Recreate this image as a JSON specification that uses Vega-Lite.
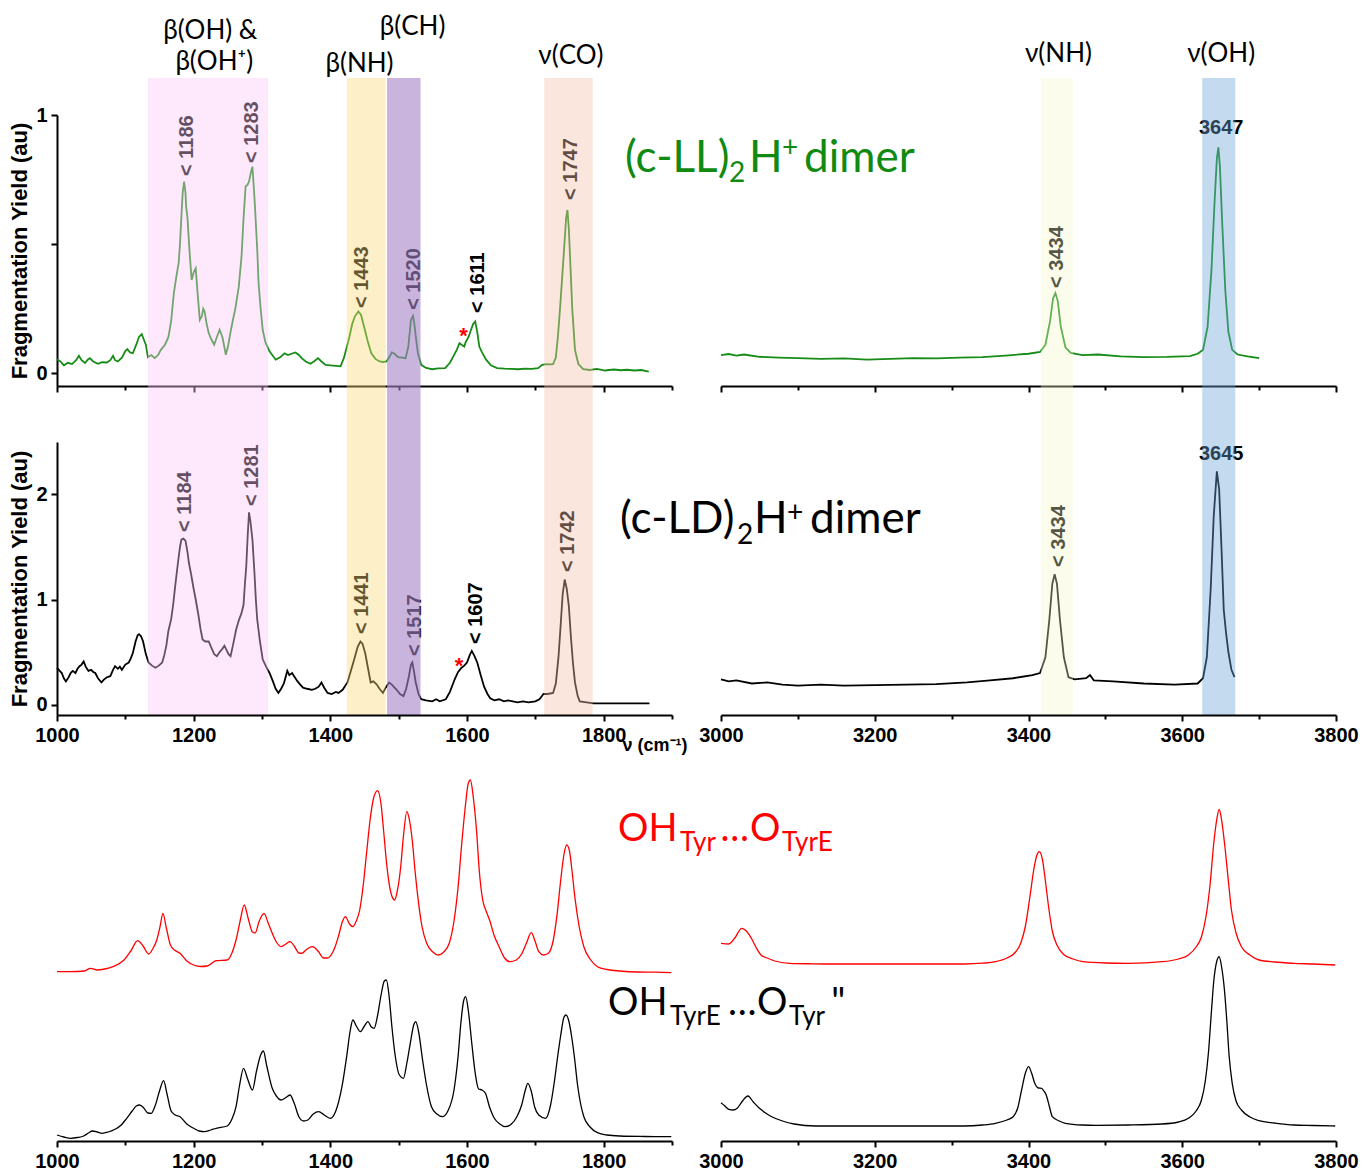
{
"$schema": "https://vega.github.io/schema/vega-lite/v6.json",
"padding": {"left": 8, "top": 13, "right": 0, "bottom": 0},
"background": "white",
"config": {
  "view": {"stroke": null},
  "axis": {"labelFont": "Liberation Sans", "labelFontWeight": "bold", "labelFontSize": 20, "labelColor": "#000", "domainColor": "#000", "domainWidth": 2, "tickColor": "#000", "tickWidth": 2, "grid": false, "titleFont": "Liberation Sans", "titleFontWeight": "bold", "titleColor": "#000", "labelFlush": false, "labelOverlap": false}
},
"datasets": {
"A": [{"wn":1000,"y":0.054},{"wn":1005,"y":0.045},{"wn":1010,"y":0.03},{"wn":1016,"y":0.04},{"wn":1022,"y":0.035},{"wn":1028,"y":0.05},{"wn":1032,"y":0.067},{"wn":1036,"y":0.05},{"wn":1041,"y":0.039},{"wn":1045,"y":0.052},{"wn":1048,"y":0.058},{"wn":1053,"y":0.045},{"wn":1060,"y":0.036},{"wn":1066,"y":0.042},{"wn":1073,"y":0.041},{"wn":1078,"y":0.05},{"wn":1082,"y":0.067},{"wn":1085,"y":0.05},{"wn":1089,"y":0.045},{"wn":1095,"y":0.06},{"wn":1100,"y":0.085},{"wn":1103,"y":0.093},{"wn":1107,"y":0.08},{"wn":1111,"y":0.077},{"wn":1116,"y":0.11},{"wn":1120,"y":0.14},{"wn":1124,"y":0.151},{"wn":1127,"y":0.13},{"wn":1130,"y":0.11},{"wn":1133,"y":0.062},{"wn":1138,"y":0.07},{"wn":1143,"y":0.058},{"wn":1148,"y":0.07},{"wn":1152,"y":0.09},{"wn":1158,"y":0.11},{"wn":1163,"y":0.139},{"wn":1167,"y":0.2},{"wn":1171,"y":0.31},{"wn":1175,"y":0.38},{"wn":1178,"y":0.426},{"wn":1180,"y":0.5},{"wn":1182,"y":0.606},{"wn":1184,"y":0.7},{"wn":1186,"y":0.742},{"wn":1188,"y":0.7},{"wn":1189,"y":0.645},{"wn":1191,"y":0.6},{"wn":1192,"y":0.555},{"wn":1194,"y":0.47},{"wn":1197,"y":0.361},{"wn":1200,"y":0.39},{"wn":1203,"y":0.406},{"wn":1206,"y":0.3},{"wn":1209,"y":0.206},{"wn":1212,"y":0.22},{"wn":1214,"y":0.25},{"wn":1216,"y":0.239},{"wn":1219,"y":0.19},{"wn":1222,"y":0.155},{"wn":1226,"y":0.13},{"wn":1230,"y":0.11},{"wn":1234,"y":0.14},{"wn":1238,"y":0.168},{"wn":1242,"y":0.14},{"wn":1245,"y":0.1},{"wn":1247,"y":0.071},{"wn":1250,"y":0.1},{"wn":1254,"y":0.16},{"wn":1257,"y":0.2},{"wn":1261,"y":0.25},{"wn":1266,"y":0.335},{"wn":1270,"y":0.45},{"wn":1273,"y":0.6},{"wn":1276,"y":0.723},{"wn":1279,"y":0.73},{"wn":1281,"y":0.742},{"wn":1284,"y":0.78},{"wn":1286,"y":0.8},{"wn":1288,"y":0.72},{"wn":1290,"y":0.632},{"wn":1293,"y":0.48},{"wn":1295,"y":0.348},{"wn":1298,"y":0.25},{"wn":1301,"y":0.168},{"wn":1305,"y":0.12},{"wn":1311,"y":0.084},{"wn":1315,"y":0.07},{"wn":1320,"y":0.052},{"wn":1326,"y":0.06},{"wn":1333,"y":0.077},{"wn":1338,"y":0.07},{"wn":1344,"y":0.076},{"wn":1349,"y":0.08},{"wn":1354,"y":0.07},{"wn":1358,"y":0.058},{"wn":1364,"y":0.045},{"wn":1371,"y":0.036},{"wn":1376,"y":0.045},{"wn":1382,"y":0.058},{"wn":1387,"y":0.045},{"wn":1393,"y":0.032},{"wn":1400,"y":0.03},{"wn":1408,"y":0.028},{"wn":1415,"y":0.026},{"wn":1420,"y":0.06},{"wn":1424,"y":0.1},{"wn":1428,"y":0.142},{"wn":1432,"y":0.19},{"wn":1436,"y":0.22},{"wn":1441,"y":0.239},{"wn":1445,"y":0.225},{"wn":1450,"y":0.174},{"wn":1455,"y":0.12},{"wn":1460,"y":0.077},{"wn":1466,"y":0.055},{"wn":1472,"y":0.045},{"wn":1477,"y":0.043},{"wn":1482,"y":0.045},{"wn":1486,"y":0.06},{"wn":1490,"y":0.08},{"wn":1494,"y":0.075},{"wn":1499,"y":0.062},{"wn":1505,"y":0.06},{"wn":1510,"y":0.058},{"wn":1514,"y":0.1},{"wn":1518,"y":0.206},{"wn":1521,"y":0.222},{"wn":1523,"y":0.19},{"wn":1525,"y":0.142},{"wn":1528,"y":0.08},{"wn":1533,"y":0.032},{"wn":1540,"y":0.02},{"wn":1549,"y":0.015},{"wn":1558,"y":0.018},{"wn":1568,"y":0.019},{"wn":1575,"y":0.04},{"wn":1580,"y":0.065},{"wn":1585,"y":0.09},{"wn":1589,"y":0.116},{"wn":1592,"y":0.11},{"wn":1596,"y":0.103},{"wn":1598,"y":0.12},{"wn":1600,"y":0.129},{"wn":1603,"y":0.145},{"wn":1605,"y":0.161},{"wn":1609,"y":0.19},{"wn":1612,"y":0.2},{"wn":1615,"y":0.16},{"wn":1618,"y":0.103},{"wn":1622,"y":0.08},{"wn":1628,"y":0.052},{"wn":1635,"y":0.03},{"wn":1644,"y":0.019},{"wn":1655,"y":0.017},{"wn":1665,"y":0.016},{"wn":1675,"y":0.015},{"wn":1685,"y":0.017},{"wn":1695,"y":0.016},{"wn":1704,"y":0.019},{"wn":1710,"y":0.032},{"wn":1716,"y":0.035},{"wn":1722,"y":0.034},{"wn":1726,"y":0.035},{"wn":1730,"y":0.06},{"wn":1733,"y":0.14},{"wn":1736,"y":0.245},{"wn":1739,"y":0.36},{"wn":1742,"y":0.477},{"wn":1745,"y":0.6},{"wn":1747,"y":0.632},{"wn":1749,"y":0.56},{"wn":1751,"y":0.439},{"wn":1754,"y":0.25},{"wn":1758,"y":0.09},{"wn":1763,"y":0.035},{"wn":1770,"y":0.015},{"wn":1780,"y":0.012},{"wn":1790,"y":0.016},{"wn":1802,"y":0.01},{"wn":1815,"y":0.014},{"wn":1825,"y":0.011},{"wn":1834,"y":0.013},{"wn":1845,"y":0.01},{"wn":1855,"y":0.012},{"wn":1866,"y":0.006}],
"B": [{"wn":1000,"y":0.35},{"wn":1004,"y":0.32},{"wn":1007,"y":0.3},{"wn":1010,"y":0.25},{"wn":1013,"y":0.22},{"wn":1017,"y":0.26},{"wn":1020,"y":0.3},{"wn":1023,"y":0.32},{"wn":1027,"y":0.3},{"wn":1030,"y":0.34},{"wn":1033,"y":0.365},{"wn":1036,"y":0.38},{"wn":1039,"y":0.41},{"wn":1042,"y":0.36},{"wn":1046,"y":0.32},{"wn":1050,"y":0.33},{"wn":1053,"y":0.31},{"wn":1056,"y":0.3},{"wn":1060,"y":0.25},{"wn":1065,"y":0.21},{"wn":1069,"y":0.24},{"wn":1073,"y":0.26},{"wn":1078,"y":0.27},{"wn":1082,"y":0.33},{"wn":1085,"y":0.365},{"wn":1089,"y":0.34},{"wn":1092,"y":0.36},{"wn":1095,"y":0.33},{"wn":1100,"y":0.38},{"wn":1105,"y":0.4},{"wn":1108,"y":0.44},{"wn":1111,"y":0.49},{"wn":1115,"y":0.6},{"wn":1118,"y":0.66},{"wn":1120,"y":0.67},{"wn":1123,"y":0.65},{"wn":1126,"y":0.6},{"wn":1130,"y":0.48},{"wn":1134,"y":0.4},{"wn":1139,"y":0.37},{"wn":1144,"y":0.35},{"wn":1149,"y":0.37},{"wn":1154,"y":0.4},{"wn":1157,"y":0.47},{"wn":1160,"y":0.56},{"wn":1163,"y":0.7},{"wn":1167,"y":0.81},{"wn":1170,"y":0.95},{"wn":1173,"y":1.13},{"wn":1177,"y":1.35},{"wn":1180,"y":1.5},{"wn":1182,"y":1.57},{"wn":1185,"y":1.58},{"wn":1188,"y":1.56},{"wn":1191,"y":1.45},{"wn":1193,"y":1.35},{"wn":1196,"y":1.25},{"wn":1200,"y":1.1},{"wn":1203,"y":1.0},{"wn":1207,"y":0.85},{"wn":1210,"y":0.72},{"wn":1213,"y":0.62},{"wn":1217,"y":0.6},{"wn":1222,"y":0.6},{"wn":1226,"y":0.54},{"wn":1230,"y":0.48},{"wn":1234,"y":0.46},{"wn":1238,"y":0.5},{"wn":1242,"y":0.53},{"wn":1245,"y":0.56},{"wn":1248,"y":0.52},{"wn":1251,"y":0.48},{"wn":1254,"y":0.46},{"wn":1258,"y":0.58},{"wn":1262,"y":0.71},{"wn":1266,"y":0.8},{"wn":1270,"y":0.87},{"wn":1273,"y":0.95},{"wn":1275,"y":1.15},{"wn":1277,"y":1.32},{"wn":1279,"y":1.6},{"wn":1281,"y":1.83},{"wn":1283,"y":1.75},{"wn":1286,"y":1.57},{"wn":1289,"y":1.25},{"wn":1291,"y":1.0},{"wn":1293,"y":0.81},{"wn":1297,"y":0.6},{"wn":1301,"y":0.43},{"wn":1306,"y":0.36},{"wn":1311,"y":0.3},{"wn":1316,"y":0.22},{"wn":1320,"y":0.15},{"wn":1324,"y":0.11},{"wn":1328,"y":0.15},{"wn":1332,"y":0.2},{"wn":1337,"y":0.32},{"wn":1340,"y":0.28},{"wn":1344,"y":0.3},{"wn":1347,"y":0.27},{"wn":1352,"y":0.22},{"wn":1356,"y":0.19},{"wn":1360,"y":0.16},{"wn":1366,"y":0.15},{"wn":1373,"y":0.14},{"wn":1378,"y":0.15},{"wn":1383,"y":0.17},{"wn":1387,"y":0.21},{"wn":1391,"y":0.16},{"wn":1396,"y":0.11},{"wn":1402,"y":0.1},{"wn":1408,"y":0.12},{"wn":1412,"y":0.11},{"wn":1418,"y":0.14},{"wn":1425,"y":0.21},{"wn":1430,"y":0.32},{"wn":1435,"y":0.43},{"wn":1440,"y":0.55},{"wn":1444,"y":0.6},{"wn":1447,"y":0.58},{"wn":1451,"y":0.49},{"wn":1455,"y":0.35},{"wn":1459,"y":0.21},{"wn":1463,"y":0.22},{"wn":1468,"y":0.19},{"wn":1472,"y":0.15},{"wn":1477,"y":0.11},{"wn":1481,"y":0.16},{"wn":1486,"y":0.21},{"wn":1490,"y":0.19},{"wn":1494,"y":0.16},{"wn":1497,"y":0.14},{"wn":1502,"y":0.1},{"wn":1507,"y":0.08},{"wn":1511,"y":0.15},{"wn":1515,"y":0.27},{"wn":1518,"y":0.38},{"wn":1520,"y":0.4},{"wn":1522,"y":0.33},{"wn":1525,"y":0.21},{"wn":1529,"y":0.1},{"wn":1533,"y":0.05},{"wn":1540,"y":0.04},{"wn":1549,"y":0.03},{"wn":1555,"y":0.05},{"wn":1560,"y":0.03},{"wn":1569,"y":0.05},{"wn":1575,"y":0.12},{"wn":1582,"y":0.24},{"wn":1587,"y":0.31},{"wn":1592,"y":0.35},{"wn":1596,"y":0.37},{"wn":1600,"y":0.4},{"wn":1604,"y":0.47},{"wn":1607,"y":0.51},{"wn":1611,"y":0.46},{"wn":1615,"y":0.4},{"wn":1620,"y":0.28},{"wn":1625,"y":0.17},{"wn":1630,"y":0.1},{"wn":1634,"y":0.06},{"wn":1640,"y":0.04},{"wn":1647,"y":0.05},{"wn":1654,"y":0.03},{"wn":1660,"y":0.04},{"wn":1667,"y":0.03},{"wn":1674,"y":0.02},{"wn":1682,"y":0.03},{"wn":1690,"y":0.02},{"wn":1700,"y":0.03},{"wn":1706,"y":0.05},{"wn":1712,"y":0.1},{"wn":1718,"y":0.1},{"wn":1726,"y":0.11},{"wn":1730,"y":0.2},{"wn":1734,"y":0.46},{"wn":1737,"y":0.75},{"wn":1740,"y":1.05},{"wn":1743,"y":1.19},{"wn":1746,"y":1.1},{"wn":1749,"y":0.94},{"wn":1752,"y":0.65},{"wn":1755,"y":0.4},{"wn":1758,"y":0.21},{"wn":1762,"y":0.08},{"wn":1765,"y":0.03},{"wn":1775,"y":0.02},{"wn":1785,"y":0.01},{"wn":1867,"y":0.01}],
"D": [{"wn":3000,"y":0.07},{"wn":3010,"y":0.074},{"wn":3020,"y":0.068},{"wn":3030,"y":0.072},{"wn":3050,"y":0.063},{"wn":3075,"y":0.06},{"wn":3100,"y":0.058},{"wn":3130,"y":0.055},{"wn":3160,"y":0.057},{"wn":3190,"y":0.052},{"wn":3220,"y":0.055},{"wn":3250,"y":0.058},{"wn":3280,"y":0.057},{"wn":3310,"y":0.06},{"wn":3340,"y":0.062},{"wn":3370,"y":0.068},{"wn":3400,"y":0.075},{"wn":3415,"y":0.082},{"wn":3422,"y":0.11},{"wn":3428,"y":0.2},{"wn":3432,"y":0.29},{"wn":3435,"y":0.31},{"wn":3438,"y":0.28},{"wn":3442,"y":0.18},{"wn":3448,"y":0.1},{"wn":3455,"y":0.078},{"wn":3470,"y":0.07},{"wn":3490,"y":0.072},{"wn":3520,"y":0.065},{"wn":3550,"y":0.062},{"wn":3580,"y":0.063},{"wn":3610,"y":0.066},{"wn":3620,"y":0.075},{"wn":3627,"y":0.09},{"wn":3633,"y":0.18},{"wn":3638,"y":0.4},{"wn":3642,"y":0.66},{"wn":3645,"y":0.83},{"wn":3647,"y":0.875},{"wn":3649,"y":0.8},{"wn":3652,"y":0.58},{"wn":3656,"y":0.32},{"wn":3660,"y":0.16},{"wn":3665,"y":0.09},{"wn":3672,"y":0.072},{"wn":3685,"y":0.065},{"wn":3700,"y":0.058}],
"E": [{"wn":3000,"y":0.24},{"wn":3010,"y":0.22},{"wn":3020,"y":0.23},{"wn":3040,"y":0.2},{"wn":3060,"y":0.21},{"wn":3080,"y":0.19},{"wn":3100,"y":0.18},{"wn":3130,"y":0.19},{"wn":3160,"y":0.18},{"wn":3200,"y":0.185},{"wn":3240,"y":0.19},{"wn":3280,"y":0.195},{"wn":3320,"y":0.21},{"wn":3350,"y":0.23},{"wn":3380,"y":0.25},{"wn":3405,"y":0.28},{"wn":3415,"y":0.3},{"wn":3422,"y":0.45},{"wn":3427,"y":0.8},{"wn":3431,"y":1.15},{"wn":3434,"y":1.24},{"wn":3437,"y":1.15},{"wn":3441,"y":0.8},{"wn":3446,"y":0.45},{"wn":3452,"y":0.26},{"wn":3460,"y":0.24},{"wn":3475,"y":0.25},{"wn":3480,"y":0.28},{"wn":3485,"y":0.23},{"wn":3510,"y":0.22},{"wn":3550,"y":0.2},{"wn":3590,"y":0.19},{"wn":3620,"y":0.2},{"wn":3627,"y":0.25},{"wn":3632,"y":0.45},{"wn":3637,"y":1.1},{"wn":3641,"y":1.8},{"wn":3645,"y":2.22},{"wn":3648,"y":2.05},{"wn":3651,"y":1.5},{"wn":3654,"y":0.9},{"wn":3657,"y":0.68},{"wn":3660,"y":0.5},{"wn":3664,"y":0.33},{"wn":3668,"y":0.26}],
"Cr": [{"wn":1000,"y":1.694},{"wn":1020,"y":1.694},{"wn":1040,"y":1.7},{"wn":1049,"y":1.727},{"wn":1059,"y":1.71},{"wn":1070,"y":1.72},{"wn":1082,"y":1.743},{"wn":1090,"y":1.77},{"wn":1098,"y":1.81},{"wn":1108,"y":1.9},{"wn":1118,"y":2.003},{"wn":1126,"y":1.95},{"wn":1134,"y":1.87},{"wn":1140,"y":1.92},{"wn":1146,"y":2.01},{"wn":1151,"y":2.15},{"wn":1155,"y":2.277},{"wn":1160,"y":2.13},{"wn":1166,"y":1.96},{"wn":1172,"y":1.91},{"wn":1180,"y":1.877},{"wn":1190,"y":1.8},{"wn":1200,"y":1.76},{"wn":1210,"y":1.745},{"wn":1220,"y":1.75},{"wn":1233,"y":1.803},{"wn":1249,"y":1.81},{"wn":1256,"y":1.88},{"wn":1262,"y":2.01},{"wn":1268,"y":2.2},{"wn":1274,"y":2.36},{"wn":1280,"y":2.22},{"wn":1286,"y":2.09},{"wn":1290,"y":2.08},{"wn":1296,"y":2.2},{"wn":1303,"y":2.277},{"wn":1309,"y":2.18},{"wn":1315,"y":2.077},{"wn":1322,"y":1.98},{"wn":1328,"y":1.943},{"wn":1335,"y":1.97},{"wn":1341,"y":1.993},{"wn":1348,"y":1.94},{"wn":1354,"y":1.88},{"wn":1358,"y":1.877},{"wn":1366,"y":1.92},{"wn":1374,"y":1.943},{"wn":1382,"y":1.9},{"wn":1390,"y":1.83},{"wn":1396,"y":1.83},{"wn":1402,"y":1.87},{"wn":1407,"y":1.943},{"wn":1412,"y":2.05},{"wn":1418,"y":2.2},{"wn":1422,"y":2.243},{"wn":1428,"y":2.17},{"wn":1433,"y":2.143},{"wn":1438,"y":2.2},{"wn":1443,"y":2.31},{"wn":1448,"y":2.55},{"wn":1453,"y":2.877},{"wn":1458,"y":3.2},{"wn":1463,"y":3.42},{"wn":1469,"y":3.503},{"wn":1474,"y":3.38},{"wn":1478,"y":3.1},{"wn":1482,"y":2.8},{"wn":1486,"y":2.577},{"wn":1490,"y":2.45},{"wn":1494,"y":2.41},{"wn":1498,"y":2.5},{"wn":1503,"y":2.743},{"wn":1507,"y":3.05},{"wn":1512,"y":3.293},{"wn":1516,"y":3.2},{"wn":1520,"y":3.0},{"wn":1524,"y":2.7},{"wn":1528,"y":2.443},{"wn":1534,"y":2.15},{"wn":1541,"y":1.977},{"wn":1550,"y":1.89},{"wn":1558,"y":1.86},{"wn":1566,"y":1.89},{"wn":1574,"y":1.977},{"wn":1581,"y":2.2},{"wn":1587,"y":2.543},{"wn":1592,"y":2.95},{"wn":1597,"y":3.31},{"wn":1602,"y":3.58},{"wn":1605,"y":3.61},{"wn":1609,"y":3.45},{"wn":1614,"y":3.1},{"wn":1618,"y":2.7},{"wn":1623,"y":2.41},{"wn":1628,"y":2.3},{"wn":1633,"y":2.21},{"wn":1640,"y":2.05},{"wn":1647,"y":1.943},{"wn":1655,"y":1.83},{"wn":1663,"y":1.793},{"wn":1672,"y":1.81},{"wn":1680,"y":1.87},{"wn":1687,"y":1.98},{"wn":1694,"y":2.083},{"wn":1700,"y":1.99},{"wn":1705,"y":1.893},{"wn":1712,"y":1.86},{"wn":1719,"y":1.877},{"wn":1726,"y":2.0},{"wn":1732,"y":2.277},{"wn":1737,"y":2.6},{"wn":1742,"y":2.87},{"wn":1746,"y":2.96},{"wn":1750,"y":2.9},{"wn":1754,"y":2.68},{"wn":1758,"y":2.43},{"wn":1764,"y":2.15},{"wn":1771,"y":1.943},{"wn":1780,"y":1.82},{"wn":1791,"y":1.743},{"wn":1805,"y":1.715},{"wn":1824,"y":1.7},{"wn":1850,"y":1.69},{"wn":1875,"y":1.688},{"wn":1899,"y":1.683}],
"Cb": [{"wn":1000,"y":0.06},{"wn":1010,"y":0.04},{"wn":1020,"y":0.027},{"wn":1030,"y":0.035},{"wn":1039,"y":0.05},{"wn":1046,"y":0.08},{"wn":1052,"y":0.1},{"wn":1059,"y":0.09},{"wn":1066,"y":0.077},{"wn":1075,"y":0.09},{"wn":1085,"y":0.117},{"wn":1094,"y":0.16},{"wn":1102,"y":0.227},{"wn":1110,"y":0.3},{"wn":1116,"y":0.35},{"wn":1121,"y":0.36},{"wn":1127,"y":0.33},{"wn":1133,"y":0.28},{"wn":1138,"y":0.277},{"wn":1144,"y":0.36},{"wn":1150,"y":0.5},{"wn":1156,"y":0.603},{"wn":1161,"y":0.47},{"wn":1167,"y":0.3},{"wn":1173,"y":0.26},{"wn":1180,"y":0.243},{"wn":1190,"y":0.17},{"wn":1200,"y":0.127},{"wn":1208,"y":0.1},{"wn":1216,"y":0.093},{"wn":1225,"y":0.11},{"wn":1233,"y":0.127},{"wn":1249,"y":0.15},{"wn":1256,"y":0.22},{"wn":1262,"y":0.343},{"wn":1267,"y":0.55},{"wn":1273,"y":0.727},{"wn":1279,"y":0.62},{"wn":1286,"y":0.51},{"wn":1292,"y":0.7},{"wn":1298,"y":0.86},{"wn":1302,"y":0.9},{"wn":1307,"y":0.75},{"wn":1315,"y":0.527},{"wn":1321,"y":0.45},{"wn":1328,"y":0.41},{"wn":1334,"y":0.43},{"wn":1341,"y":0.46},{"wn":1347,"y":0.38},{"wn":1354,"y":0.243},{"wn":1361,"y":0.2},{"wn":1367,"y":0.21},{"wn":1375,"y":0.27},{"wn":1383,"y":0.293},{"wn":1391,"y":0.26},{"wn":1400,"y":0.227},{"wn":1408,"y":0.3},{"wn":1417,"y":0.543},{"wn":1424,"y":0.85},{"wn":1429,"y":1.1},{"wn":1433,"y":1.21},{"wn":1438,"y":1.15},{"wn":1444,"y":1.093},{"wn":1449,"y":1.14},{"wn":1455,"y":1.193},{"wn":1460,"y":1.14},{"wn":1464,"y":1.127},{"wn":1469,"y":1.25},{"wn":1474,"y":1.45},{"wn":1479,"y":1.6},{"wn":1482,"y":1.61},{"wn":1486,"y":1.45},{"wn":1490,"y":1.15},{"wn":1495,"y":0.85},{"wn":1501,"y":0.66},{"wn":1507,"y":0.627},{"wn":1512,"y":0.78},{"wn":1517,"y":0.977},{"wn":1522,"y":1.16},{"wn":1525,"y":1.193},{"wn":1529,"y":1.1},{"wn":1535,"y":0.81},{"wn":1541,"y":0.55},{"wn":1548,"y":0.343},{"wn":1556,"y":0.27},{"wn":1564,"y":0.243},{"wn":1572,"y":0.3},{"wn":1581,"y":0.51},{"wn":1587,"y":0.85},{"wn":1591,"y":1.177},{"wn":1595,"y":1.4},{"wn":1598,"y":1.443},{"wn":1602,"y":1.3},{"wn":1607,"y":0.977},{"wn":1612,"y":0.68},{"wn":1617,"y":0.52},{"wn":1622,"y":0.51},{"wn":1627,"y":0.477},{"wn":1633,"y":0.34},{"wn":1640,"y":0.227},{"wn":1648,"y":0.17},{"wn":1656,"y":0.143},{"wn":1665,"y":0.17},{"wn":1673,"y":0.243},{"wn":1680,"y":0.36},{"wn":1685,"y":0.5},{"wn":1689,"y":0.577},{"wn":1694,"y":0.5},{"wn":1699,"y":0.34},{"wn":1705,"y":0.26},{"wn":1715,"y":0.227},{"wn":1722,"y":0.35},{"wn":1728,"y":0.6},{"wn":1732,"y":0.81},{"wn":1737,"y":1.05},{"wn":1742,"y":1.24},{"wn":1745,"y":1.26},{"wn":1749,"y":1.2},{"wn":1753,"y":1.05},{"wn":1757,"y":0.85},{"wn":1762,"y":0.55},{"wn":1766,"y":0.38},{"wn":1771,"y":0.243},{"wn":1780,"y":0.14},{"wn":1791,"y":0.083},{"wn":1805,"y":0.06},{"wn":1824,"y":0.05},{"wn":1860,"y":0.045},{"wn":1899,"y":0.043}],
"Fr": [{"wn":3000,"y":1.977},{"wn":3010,"y":1.97},{"wn":3018,"y":2.03},{"wn":3027,"y":2.127},{"wn":3033,"y":2.1},{"wn":3040,"y":2.02},{"wn":3046,"y":1.93},{"wn":3052,"y":1.86},{"wn":3060,"y":1.83},{"wn":3070,"y":1.8},{"wn":3089,"y":1.777},{"wn":3120,"y":1.772},{"wn":3146,"y":1.77},{"wn":3250,"y":1.77},{"wn":3317,"y":1.77},{"wn":3340,"y":1.778},{"wn":3357,"y":1.793},{"wn":3372,"y":1.83},{"wn":3382,"y":1.88},{"wn":3390,"y":1.98},{"wn":3396,"y":2.15},{"wn":3402,"y":2.45},{"wn":3407,"y":2.72},{"wn":3411,"y":2.86},{"wn":3414,"y":2.893},{"wn":3418,"y":2.82},{"wn":3422,"y":2.6},{"wn":3426,"y":2.35},{"wn":3431,"y":2.1},{"wn":3437,"y":1.96},{"wn":3445,"y":1.87},{"wn":3458,"y":1.82},{"wn":3471,"y":1.793},{"wn":3500,"y":1.78},{"wn":3530,"y":1.777},{"wn":3574,"y":1.793},{"wn":3595,"y":1.82},{"wn":3608,"y":1.86},{"wn":3618,"y":1.94},{"wn":3625,"y":2.043},{"wn":3631,"y":2.25},{"wn":3636,"y":2.55},{"wn":3641,"y":2.977},{"wn":3645,"y":3.22},{"wn":3648,"y":3.317},{"wn":3651,"y":3.22},{"wn":3655,"y":2.977},{"wn":3660,"y":2.6},{"wn":3664,"y":2.31},{"wn":3670,"y":2.08},{"wn":3677,"y":1.943},{"wn":3688,"y":1.86},{"wn":3700,"y":1.81},{"wn":3720,"y":1.79},{"wn":3745,"y":1.777},{"wn":3770,"y":1.77},{"wn":3799,"y":1.76}],
"Fb": [{"wn":3000,"y":0.383},{"wn":3005,"y":0.35},{"wn":3010,"y":0.317},{"wn":3016,"y":0.31},{"wn":3021,"y":0.327},{"wn":3028,"y":0.4},{"wn":3035,"y":0.45},{"wn":3042,"y":0.39},{"wn":3050,"y":0.327},{"wn":3058,"y":0.28},{"wn":3066,"y":0.243},{"wn":3080,"y":0.2},{"wn":3095,"y":0.17},{"wn":3123,"y":0.15},{"wn":3200,"y":0.15},{"wn":3317,"y":0.15},{"wn":3340,"y":0.16},{"wn":3357,"y":0.177},{"wn":3372,"y":0.21},{"wn":3380,"y":0.243},{"wn":3386,"y":0.33},{"wn":3391,"y":0.51},{"wn":3396,"y":0.68},{"wn":3400,"y":0.743},{"wn":3404,"y":0.68},{"wn":3408,"y":0.58},{"wn":3413,"y":0.53},{"wn":3417,"y":0.527},{"wn":3420,"y":0.5},{"wn":3423,"y":0.46},{"wn":3427,"y":0.35},{"wn":3431,"y":0.243},{"wn":3440,"y":0.2},{"wn":3448,"y":0.177},{"wn":3470,"y":0.16},{"wn":3488,"y":0.157},{"wn":3530,"y":0.16},{"wn":3574,"y":0.17},{"wn":3595,"y":0.19},{"wn":3608,"y":0.227},{"wn":3618,"y":0.3},{"wn":3625,"y":0.41},{"wn":3630,"y":0.6},{"wn":3634,"y":0.877},{"wn":3638,"y":1.3},{"wn":3641,"y":1.6},{"wn":3645,"y":1.8},{"wn":3648,"y":1.843},{"wn":3651,"y":1.75},{"wn":3655,"y":1.5},{"wn":3658,"y":1.2},{"wn":3661,"y":0.85},{"wn":3665,"y":0.577},{"wn":3670,"y":0.4},{"wn":3677,"y":0.31},{"wn":3688,"y":0.24},{"wn":3700,"y":0.203},{"wn":3720,"y":0.18},{"wn":3745,"y":0.16},{"wn":3770,"y":0.155},{"wn":3799,"y":0.15}],
"bands": [{"wn":1133,"wn2":1309,"band":"a"},{"wn":1424,"wn2":1481,"band":"b"},{"wn":1483,"wn2":1532,"band":"c"},{"wn":1713,"wn2":1784,"band":"d"},{"wn":3416,"wn2":3458,"band":"e"},{"wn":3626,"wn2":3669,"band":"f"}],
"peaksA": [{"wn":1190,"y":0.764,"text":"< 1186"},{"wn":1285,"y":0.814,"text":"< 1283"},{"wn":1447,"y":0.252,"text":"< 1443"},{"wn":1523,"y":0.245,"text":"< 1520"},{"wn":1615.7,"y":0.233,"text":"< 1611"},{"wn":1752,"y":0.671,"text":"< 1747"}],
"peaksB": [{"wn":1187.6,"y":1.643,"text":"< 1184"},{"wn":1285.8,"y":1.89,"text":"< 1281"},{"wn":1446.5,"y":0.671,"text":"< 1441"},{"wn":1523.3,"y":0.462,"text":"< 1517"},{"wn":1612.7,"y":0.576,"text":"< 1607"},{"wn":1747.6,"y":1.262,"text":"< 1742"}],
"peaksD": [{"wn":3437.7,"y":0.33,"text":"< 3434"}],
"peaksE": [{"wn":3440,"y":1.31,"text":"< 3434"}],
"numD": [{"wn":3650.6,"y":0.95,"text":"3647"}],
"numE": [{"wn":3650.6,"y":2.386,"text":"3645"}],
"starA": [{"wn":1595,"y":0.143,"text":"*"}],
"starB": [{"wn":1588.5,"y":0.367,"text":"*"}],
"headL": [{"wn":1224.3,"y":1.325,"text":"β(OH) &"},{"wn":1230.1,"y":1.205,"text":"β(OH⁺)"},{"wn":1520.4,"y":1.341,"text":"β(CH)"},{"wn":1442.7,"y":1.198,"text":"β(NH)"},{"wn":1752,"y":1.229,"text":"ν(CO)"}],
"headR": [{"wn":3439,"y":1.236,"text":"ν(NH)"},{"wn":3650.6,"y":1.236,"text":"ν(OH)"}],
"dimAmain": [{"wn":1831.3,"y":0.779,"text":"(c-LL)"},{"wn":2012.7,"y":0.779,"text":"H"},{"wn":2093.2,"y":0.779,"text":"dimer"}],
"dimAsmall": [{"wn":1983.5,"y":0.74,"text":"2"},{"wn":2061,"y":0.837,"text":"+"}],
"dimBmain": [{"wn":1824,"y":1.633,"text":"(c-LD)"},{"wn":2020.1,"y":1.633,"text":"H"},{"wn":2102,"y":1.633,"text":"dimer"}],
"dimBsmall": [{"wn":1995.2,"y":1.529,"text":"2"},{"wn":2068.3,"y":1.74,"text":"+"}],
"redMain": [{"wn":1821,"y":3.0,"text":"OH"},{"wn":1971,"y":3.0,"text":"…"},{"wn":2014.2,"y":3.0,"text":"O"}],
"redSub": [{"wn":1911.7,"y":2.9,"text":"Tyr"},{"wn":2061,"y":2.9,"text":"TyrE"}],
"blkMain": [{"wn":1806.4,"y":1.26,"text":"OH"},{"wn":1982,"y":1.26,"text":"…"},{"wn":2024.4,"y":1.26,"text":"O"},{"wn":2133,"y":1.26,"text":"\""}],
"blkSub": [{"wn":1897.1,"y":1.16,"text":"TyrE"},{"wn":2071.3,"y":1.16,"text":"Tyr"}]
},
"columns": 2,
"spacing": {"row": 56, "column": 49},
"bounds": "flush",
"align": "each",
"resolve": {"scale": {"x": "independent", "y": "independent"}},
"concat": [
{
 "width": 615, "height": 271,
 "encoding": {
  "x": {"field": "wn", "type": "quantitative", "scale": {"domain": [1000, 1900], "nice": false, "zero": false},
        "axis": {"title": null, "values": [1000,1100,1200,1300,1400,1500,1600,1700,1800,1900], "labels": false, "tickSize": {"condition": {"test": "datum.value % 200 == 0", "value": 6}, "value": 4}}},
  "y": {"field": "y", "type": "quantitative", "scale": {"domain": [-0.05, 1], "nice": false, "zero": false},
        "axis": {"title": "Fragmentation Yield (au)", "titleFontSize": 22, "titlePadding": 4, "values": [0, 0.5, 1], "format": "~g", "labelExpr": "datum.value == 0.5 ? '' : datum.label", "tickSize": 6, "labelPadding": 4}}
 },
 "layer": [
  {"data": {"name": "A"}, "mark": {"type": "line", "color": "#168c16", "strokeWidth": 1.8}},
  {"data": {"name": "peaksA"}, "mark": {"type": "text", "angle": 270, "align": "left", "baseline": "middle", "font": "Liberation Sans", "fontWeight": "bold", "fontSize": 20, "color": "#000"}, "encoding": {"text": {"field": "text"}}},
  {"data": {"name": "starA"}, "mark": {"type": "text", "align": "center", "baseline": "middle", "font": "Liberation Sans", "fontWeight": "bold", "fontSize": 22, "color": "#ff0000"}, "encoding": {"text": {"field": "text"}}},
  {"data": {"name": "headL"}, "mark": {"type": "text", "align": "center", "baseline": "middle", "font": "Lato", "fontSize": 26, "color": "#000"}, "encoding": {"text": {"field": "text"}}},
  {"data": {"name": "dimAmain"}, "mark": {"type": "text", "align": "left", "baseline": "alphabetic", "font": "Lato", "fontSize": 44, "color": "#108a10"}, "encoding": {"text": {"field": "text"}}},
  {"data": {"name": "dimAsmall"}, "mark": {"type": "text", "align": "left", "baseline": "alphabetic", "font": "Lato", "fontSize": 28, "color": "#108a10"}, "encoding": {"text": {"field": "text"}}}
 ]
},
{
 "width": 615, "height": 271,
 "encoding": {
  "x": {"field": "wn", "type": "quantitative", "scale": {"domain": [3000, 3800], "nice": false, "zero": false},
        "axis": {"title": null, "values": [3000,3100,3200,3300,3400,3500,3600,3700,3800], "labels": false, "tickSize": {"condition": {"test": "datum.value % 200 == 0", "value": 6}, "value": 4}}},
  "y": {"field": "y", "type": "quantitative", "scale": {"domain": [-0.05, 1], "nice": false, "zero": false}, "axis": null}
 },
 "layer": [
  {"data": {"name": "D"}, "mark": {"type": "line", "color": "#168c16", "strokeWidth": 1.8}},
  {"data": {"name": "peaksD"}, "mark": {"type": "text", "angle": 270, "align": "left", "baseline": "middle", "font": "Liberation Sans", "fontWeight": "bold", "fontSize": 20, "color": "#000"}, "encoding": {"text": {"field": "text"}}},
  {"data": {"name": "numD"}, "mark": {"type": "text", "align": "center", "baseline": "middle", "font": "Liberation Sans", "fontWeight": "bold", "fontSize": 20, "color": "#000"}, "encoding": {"text": {"field": "text"}}},
  {"data": {"name": "headR"}, "mark": {"type": "text", "align": "center", "baseline": "middle", "font": "Lato", "fontSize": 26, "color": "#000"}, "encoding": {"text": {"field": "text"}}}
 ]
},
{
 "width": 615, "height": 273,
 "encoding": {
  "x": {"field": "wn", "type": "quantitative", "scale": {"domain": [1000, 1900], "nice": false, "zero": false},
        "axis": {"title": "ν (cm⁻¹)", "titleFontSize": 18, "titleX": 630, "titleY": 21, "titleAlign": "right", "titleBaseline": "top", "format": "d", "zindex": 1, "labelPadding": 4, "values": [1000,1100,1200,1300,1400,1500,1600,1700,1800,1900], "labelExpr": "datum.value % 200 == 0 && datum.value < 1900 ? datum.label : ''", "tickSize": {"condition": {"test": "datum.value % 200 == 0", "value": 6}, "value": 4}}}
 },
 "layer": [
  {"data": {"name": "B"}, "mark": {"type": "line", "color": "#000", "strokeWidth": 1.8},
   "encoding": {"y": {"field": "y", "type": "quantitative", "scale": {"domain": [-0.1, 2.5], "nice": false, "zero": false},
        "axis": {"title": "Fragmentation Yield (au)", "titleFontSize": 22, "titlePadding": 4, "values": [0, 1, 2], "format": "~g", "tickSize": 6, "labelPadding": 4, "zindex": 1}}}},
  {"data": {"name": "peaksB"}, "mark": {"type": "text", "angle": 270, "align": "left", "baseline": "middle", "font": "Liberation Sans", "fontWeight": "bold", "fontSize": 20, "color": "#000"}, "encoding": {"y": {"field": "y", "type": "quantitative"}, "text": {"field": "text"}}},
  {"data": {"name": "starB"}, "mark": {"type": "text", "align": "center", "baseline": "middle", "font": "Liberation Sans", "fontWeight": "bold", "fontSize": 22, "color": "#ff0000"}, "encoding": {"y": {"field": "y", "type": "quantitative"}, "text": {"field": "text"}}},
  {"data": {"name": "dimBmain"}, "mark": {"type": "text", "align": "left", "baseline": "alphabetic", "font": "Lato", "fontSize": 44, "color": "#000"}, "encoding": {"y": {"field": "y", "type": "quantitative"}, "text": {"field": "text"}}},
  {"data": {"name": "dimBsmall"}, "mark": {"type": "text", "align": "left", "baseline": "alphabetic", "font": "Lato", "fontSize": 28, "color": "#000"}, "encoding": {"y": {"field": "y", "type": "quantitative"}, "text": {"field": "text"}}},
  {"data": {"name": "bands"}, "transform": [{"filter": "datum.band == 'a'"}], "mark": {"type": "rect", "fill": "rgb(250,200,245)", "fillOpacity": 0.4}, "encoding": {"x2": {"field": "wn2"}, "y": {"datum": -0.1, "type": "quantitative"}, "y2": {"datum": 5.967}}},
  {"data": {"name": "bands"}, "transform": [{"filter": "datum.band == 'b'"}], "mark": {"type": "rect", "fill": "rgb(250,215,118)", "fillOpacity": 0.4}, "encoding": {"x2": {"field": "wn2"}, "y": {"datum": -0.1, "type": "quantitative"}, "y2": {"datum": 5.967}}},
  {"data": {"name": "bands"}, "transform": [{"filter": "datum.band == 'c'"}], "mark": {"type": "rect", "fill": "rgb(163,130,197)", "fillOpacity": 0.6}, "encoding": {"x2": {"field": "wn2"}, "y": {"datum": -0.1, "type": "quantitative"}, "y2": {"datum": 5.967}}},
  {"data": {"name": "bands"}, "transform": [{"filter": "datum.band == 'd'"}], "mark": {"type": "rect", "fill": "rgb(245,192,170)", "fillOpacity": 0.4}, "encoding": {"x2": {"field": "wn2"}, "y": {"datum": -0.1, "type": "quantitative"}, "y2": {"datum": 5.967}}}
 ]
},
{
 "width": 615, "height": 273,
 "encoding": {
  "x": {"field": "wn", "type": "quantitative", "scale": {"domain": [3000, 3800], "nice": false, "zero": false},
        "axis": {"title": null, "format": "d", "zindex": 1, "labelPadding": 4, "values": [3000,3100,3200,3300,3400,3500,3600,3700,3800], "labelExpr": "datum.value % 200 == 0 ? datum.label : ''", "tickSize": {"condition": {"test": "datum.value % 200 == 0", "value": 6}, "value": 4}}}
 },
 "layer": [
  {"data": {"name": "E"}, "mark": {"type": "line", "color": "#000", "strokeWidth": 1.8},
   "encoding": {"y": {"field": "y", "type": "quantitative", "scale": {"domain": [-0.1, 2.5], "nice": false, "zero": false}, "axis": null}}},
  {"data": {"name": "peaksE"}, "mark": {"type": "text", "angle": 270, "align": "left", "baseline": "middle", "font": "Liberation Sans", "fontWeight": "bold", "fontSize": 20, "color": "#000"}, "encoding": {"y": {"field": "y", "type": "quantitative"}, "text": {"field": "text"}}},
  {"data": {"name": "numE"}, "mark": {"type": "text", "align": "center", "baseline": "middle", "font": "Liberation Sans", "fontWeight": "bold", "fontSize": 20, "color": "#000"}, "encoding": {"y": {"field": "y", "type": "quantitative"}, "text": {"field": "text"}}},
  {"data": {"name": "bands"}, "transform": [{"filter": "datum.band == 'e'"}], "mark": {"type": "rect", "fill": "rgb(244,246,198)", "fillOpacity": 0.35}, "encoding": {"x2": {"field": "wn2"}, "y": {"datum": -0.1, "type": "quantitative"}, "y2": {"datum": 5.967}}},
  {"data": {"name": "bands"}, "transform": [{"filter": "datum.band == 'f'"}], "mark": {"type": "rect", "fill": "rgb(105,162,215)", "fillOpacity": 0.4}, "encoding": {"x2": {"field": "wn2"}, "y": {"datum": -0.1, "type": "quantitative"}, "y2": {"datum": 5.967}}}
 ]
},
{
 "width": 615, "height": 370,
 "encoding": {
  "x": {"field": "wn", "type": "quantitative", "scale": {"domain": [1000, 1900], "nice": false, "zero": false},
        "axis": {"title": null, "format": "d", "labelPadding": 4, "values": [1000,1100,1200,1300,1400,1500,1600,1700,1800,1900], "labelExpr": "datum.value % 200 == 0 && datum.value < 1900 ? datum.label : ''", "tickSize": {"condition": {"test": "datum.value % 200 == 0", "value": 6}, "value": 4}}},
  "y": {"field": "y", "type": "quantitative", "scale": {"domain": [0, 3.7], "nice": false, "zero": false}, "axis": null}
 },
 "layer": [
  {"data": {"name": "Cr"}, "mark": {"type": "line", "color": "#ff0000", "strokeWidth": 1.3, "interpolate": "monotone"}},
  {"data": {"name": "Cb"}, "mark": {"type": "line", "color": "#000", "strokeWidth": 1.3, "interpolate": "monotone"}},
  {"data": {"name": "redMain"}, "mark": {"type": "text", "align": "left", "baseline": "alphabetic", "font": "Lato", "fontSize": 38, "color": "#ff0000"}, "encoding": {"text": {"field": "text"}}},
  {"data": {"name": "redSub"}, "mark": {"type": "text", "align": "left", "baseline": "alphabetic", "font": "Lato", "fontSize": 26, "color": "#ff0000"}, "encoding": {"text": {"field": "text"}}},
  {"data": {"name": "blkMain"}, "mark": {"type": "text", "align": "left", "baseline": "alphabetic", "font": "Lato", "fontSize": 38, "color": "#000"}, "encoding": {"text": {"field": "text"}}},
  {"data": {"name": "blkSub"}, "mark": {"type": "text", "align": "left", "baseline": "alphabetic", "font": "Lato", "fontSize": 26, "color": "#000"}, "encoding": {"text": {"field": "text"}}}
 ]
},
{
 "width": 615, "height": 370,
 "encoding": {
  "x": {"field": "wn", "type": "quantitative", "scale": {"domain": [3000, 3800], "nice": false, "zero": false},
        "axis": {"title": null, "format": "d", "labelPadding": 4, "values": [3000,3100,3200,3300,3400,3500,3600,3700,3800], "labelExpr": "datum.value % 200 == 0 ? datum.label : ''", "tickSize": {"condition": {"test": "datum.value % 200 == 0", "value": 6}, "value": 4}}},
  "y": {"field": "y", "type": "quantitative", "scale": {"domain": [0, 3.7], "nice": false, "zero": false}, "axis": null}
 },
 "layer": [
  {"data": {"name": "Fr"}, "mark": {"type": "line", "color": "#ff0000", "strokeWidth": 1.3, "interpolate": "monotone"}},
  {"data": {"name": "Fb"}, "mark": {"type": "line", "color": "#000", "strokeWidth": 1.3, "interpolate": "monotone"}}
 ]
}
]
}
